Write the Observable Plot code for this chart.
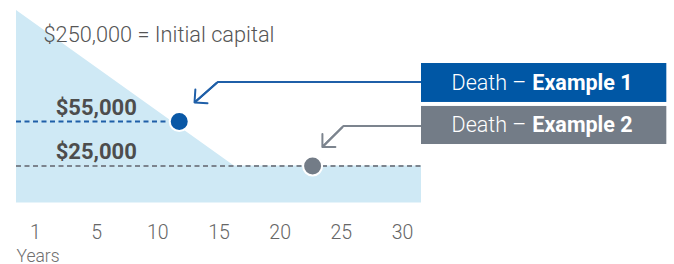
<!DOCTYPE html>
<html>
<head>
<meta charset="utf-8">
<script src="https://cdn.jsdelivr.net/npm/d3@7"></script>
<script src="https://cdn.jsdelivr.net/npm/@observablehq/plot@0.6"></script>
<style>
  html, body { margin: 0; padding: 0; background: #fff; }
  #chart svg { display: block; font-family: Roboto, "Liberation Sans", sans-serif; }
</style>
</head>
<body>
<div id="chart"></div>
<script>
// ---- data ----
const tickLabels = [1, 5, 10, 15, 20, 25, 30];      // x axis labels (equally spaced slots)
const tickSlots = [0, 1, 2, 3, 4, 5, 6];
const xDomain = [-0.31, 6.31];                       // slot units
const yDomain = [0, 130000];                         // dollars (schematic)

const capitalX = [-0.31, 3.25, 6.31];                // declining capital outline
const capitalY = [130000, 25000, 25000];

const deathNames = ["Example 1", "Example 2"];
const deathX = [2.35, 4.53];
const deathY = [55000, 25000];
const deathValueLabels = ["$55,000", "$25,000"];
const dashEndX = [2.35, 6.31];
const labelX = [0.33, 0.33];
const seriesColors = ["#0a58a6", "#737c87"];
const lineColors = ["#1f5fa8", "#7c848e"];
const boxColors = ["#0057a5", "#737c87"];

// call-out annotations (slot units / dollars)
const boxX1 = [6.31, 6.31];
const boxX2 = [10.32, 10.32];
const boxY1 = [94200, 65200];
const boxY2 = [67900, 39500];
const boxTextY = [81050, 52350];
const boxSplitX = [8.04, 8.04];
const arrowStartX = [6.31, 6.31];
const arrowY = [81700, 52000];
const arrowBendX = [2.98, 5.035];
const arrowTipX = [2.60, 4.69];
const arrowTipY = [67900, 37800];

const titleText = "$250,000 = Initial capital";
const axisTitle = "Years";

// ---- tables built from the arrays ----
const capital = capitalX.map((x, i) => ({x, y: capitalY[i]}));
const deaths = deathNames.map((name, i) => ({
  name, x: deathX[i], y: deathY[i], label: deathValueLabels[i], x2: dashEndX[i], lx: labelX[i],
  color: seriesColors[i], line: lineColors[i], box: boxColors[i],
  bx1: boxX1[i], bx2: boxX2[i], by1: boxY1[i], by2: boxY2[i], ty: boxTextY[i], sx: boxSplitX[i],
  ax: arrowStartX[i], ay: arrowY[i], bendX: arrowBendX[i], tipX: arrowTipX[i], tipY: arrowTipY[i]
}));
const arrowPath = deaths.flatMap(d => [
  {name: d.name, x: d.ax, y: d.ay, c: d.line},
  {name: d.name, x: d.bendX, y: d.ay, c: d.line},
  {name: d.name, x: d.tipX, y: d.tipY, c: d.line}
]);
const heads = deaths.map(d => ({
  x1: d.tipX + 1.4 * (d.bendX - d.tipX), y1: d.tipY + 1.4 * (d.ay - d.tipY),
  x2: d.tipX, y2: d.tipY, c: d.line
}));
const ticks = tickSlots.map((s, i) => ({s, t: String(tickLabels[i])}));

const chart = Plot.plot({
  width: 674,
  height: 264,
  marginLeft: 16,
  marginRight: 253,
  marginTop: 10,
  marginBottom: 61.5,
  x: {domain: xDomain, axis: null},
  y: {domain: yDomain, axis: null},
  marks: [
    Plot.areaY(capital, {x: "x", y: "y", fill: "#cfe9f5"}),
    Plot.ruleY(deaths, {y: "y", x1: xDomain[0], x2: "x2", stroke: "line", strokeWidth: 2, strokeDasharray: "5,3.5"}),
    Plot.text(deaths, {x: "lx", y: "y", text: "label", textAnchor: "start", lineAnchor: "bottom", dy: -6.5,
      fontSize: 22, fontWeight: 700, fill: "#4d4d4d"}),
    Plot.dot(deaths, {x: "x", y: "y", r: 9.5, fill: "color", stroke: "white", strokeWidth: 2}),
    Plot.line(arrowPath, {x: "x", y: "y", z: "name", stroke: "c", strokeWidth: 2, strokeLinejoin: "miter", strokeLinecap: "butt"}),
    Plot.arrow(heads, {x1: "x1", y1: "y1", x2: "x2", y2: "y2", stroke: "c", strokeWidth: 2, headLength: 9.75, headAngle: 90, insetStart: 14, strokeLinejoin: "miter"}),
    Plot.rect(deaths, {x1: "bx1", x2: "bx2", y1: "by1", y2: "by2", fill: "box"}),
    Plot.text(deaths, {x: "sx", y: "ty", text: () => "Death –", textAnchor: "end", dx: -1, fontSize: 21.5, fontWeight: 300, fill: "white"}),
    Plot.text(deaths, {x: "sx", y: "ty", text: "name", textAnchor: "start", dx: 5, fontSize: 21.5, fontWeight: 700, fill: "white"}),
    Plot.text([titleText], {frameAnchor: "top-left", text: d => d, textAnchor: "start", lineAnchor: "bottom", dx: 27, dy: 31,
      fontSize: 21.75, fontWeight: 300, fill: "#555"}),
    Plot.text(ticks, {x: "s", frameAnchor: "bottom", text: "t", lineAnchor: "bottom", dy: 35.5, fontSize: 19.5, fontWeight: 300, fill: "#666"}),
    Plot.text([axisTitle], {frameAnchor: "bottom-left", text: d => d, textAnchor: "start", lineAnchor: "bottom", dy: 58.5,
      fontSize: 17.5, fontWeight: 300, fill: "#6f6f6f"})
  ]
});
document.getElementById("chart").appendChild(chart);
</script>
</body>
</html>
